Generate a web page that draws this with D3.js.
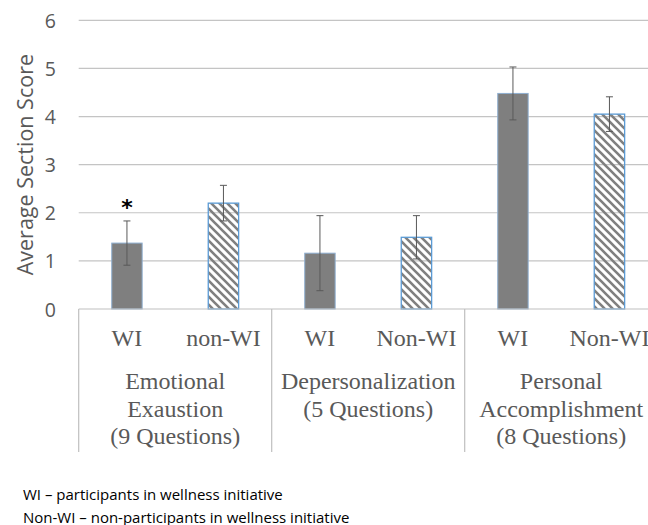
<!DOCTYPE html>
<html>
<head>
<meta charset="utf-8">
<script src="https://cdn.jsdelivr.net/npm/d3@7"></script>
<style>
body { margin: 0; background: #fff; }
svg { display: block; }
</style>
</head>
<body>
<div id="chart"></div>
<script>
// data
var categoryLines = [
	["Emotional", "Exaustion", "(9 Questions)"],
	["Depersonalization", "(5 Questions)"],
	["Personal", "Accomplishment", "(8 Questions)"]
];
var wiLabels = ["WI", "WI", "WI"];
var nonWiLabels = ["non-WI", "Non-WI", "Non-WI"];
var wiMeans = [1.37, 1.16, 4.48];
var wiErr = [0.46, 0.78, 0.55];
var nonWiMeans = [2.20, 1.49, 4.05];
var nonWiErr = [0.37, 0.45, 0.36];
var wiSignif = ["*", "", ""];
var yTicks = [0, 1, 2, 3, 4, 5, 6];
var yTitle = "Average Section Score";
var footnotes = [
	"WI \u2013 participants in wellness initiative",
	"Non-WI \u2013 non-participants in wellness initiative"
];

var chartW = 648, chartH = 525;
var plotLeft = 78.7, plotRight = 657.7, plotTop = 20.3, plotBottom = 309;

var svg = d3.select("#chart").append("svg")
	.attr("width", chartW)
	.attr("height", chartH);

var defs = svg.append("defs");
defs.append("pattern")
	.attr("id", "stripes")
	.attr("patternUnits", "userSpaceOnUse")
	.attr("width", 8)
	.attr("height", 8)
	.append("path")
	.attr("d", "M-2,-2L10,10M-2,6L2,10M6,-2L10,2")
	.attr("stroke", "#808080")
	.attr("stroke-width", 2.6);

// one bar per (category, group)
var bars = [];
categoryLines.forEach(function(c, i) {
	bars.push({id: i + "-wi", cat: i, label: wiLabels[i], v: wiMeans[i], e: wiErr[i], sig: wiSignif[i], wi: true});
	bars.push({id: i + "-non", cat: i, label: nonWiLabels[i], v: nonWiMeans[i], e: nonWiErr[i], sig: "", wi: false});
});

var y = d3.scaleLinear().domain([0, 6]).range([plotBottom, plotTop]);
var x = d3.scaleBand()
	.domain(bars.map(function(d) { return d.id; }))
	.range([plotLeft, plotRight])
	.paddingInner(0.685)
	.paddingOuter(0.3425);
var xCat = d3.scaleBand()
	.domain(d3.range(categoryLines.length))
	.range([plotLeft, plotRight]);

// gridlines
svg.append("g")
	.selectAll("line")
	.data(yTicks.filter(function(t) { return t > 0; }))
	.enter().append("line")
	.attr("x1", plotLeft).attr("x2", chartW)
	.attr("y1", function(d) { return y(d); })
	.attr("y2", function(d) { return y(d); })
	.attr("stroke", "#c4c4c4")
	.attr("stroke-width", 1.2);

// y axis labels
var yAxis = svg.append("g")
	.attr("transform", "translate(" + 56 + ",0)")
	.call(d3.axisLeft(y).tickValues(yTicks).tickSize(0).tickPadding(0).tickFormat(d3.format("d")));
yAxis.select(".domain").remove();
yAxis.selectAll("text")
	.attr("font-family", "'Open Sans', sans-serif")
	.attr("font-size", 19.5)
	.attr("fill", "#595959")
	.attr("dy", "0.36em");

svg.append("text")
	.attr("transform", "translate(33," + ((plotTop + plotBottom) / 2) + ") rotate(-90)")
	.attr("text-anchor", "middle")
	.attr("font-family", "'Open Sans', sans-serif")
	.attr("font-size", 21.5)
	.attr("fill", "#595959")
	.text(yTitle);

// bars
svg.append("g")
	.selectAll("rect")
	.data(bars)
	.enter().append("rect")
	.attr("x", function(d) { return x(d.id); })
	.attr("y", function(d) { return y(d.v); })
	.attr("width", x.bandwidth())
	.attr("height", function(d) { return y(0) - y(d.v); })
	.attr("fill", function(d) { return d.wi ? "#7f7f7f" : "url(#stripes)"; })
	.attr("stroke", function(d) { return d.wi ? "#8eaed0" : "#5b9bd5"; })
	.attr("stroke-width", function(d) { return d.wi ? 1 : 1.3; });

// error bars
var eb = svg.append("g")
	.selectAll("g")
	.data(bars)
	.enter().append("g")
	.attr("stroke", "#595959")
	.attr("stroke-width", 1);
eb.append("line")
	.attr("x1", function(d) { return x(d.id) + x.bandwidth() / 2; })
	.attr("x2", function(d) { return x(d.id) + x.bandwidth() / 2; })
	.attr("y1", function(d) { return y(d.v + d.e); })
	.attr("y2", function(d) { return y(d.v - d.e); });
[1, -1].forEach(function(s) {
	eb.append("line")
		.attr("x1", function(d) { return x(d.id) + x.bandwidth() / 2 - 3.5; })
		.attr("x2", function(d) { return x(d.id) + x.bandwidth() / 2 + 3.5; })
		.attr("y1", function(d) { return y(d.v + s * d.e); })
		.attr("y2", function(d) { return y(d.v + s * d.e); });
});

// significance mark
svg.append("g")
	.selectAll("text")
	.data(bars.filter(function(d) { return d.sig; }))
	.enter().append("text")
	.attr("x", function(d) { return x(d.id) + x.bandwidth() / 2; })
	.attr("y", function(d) { return y(d.v + d.e) - 6; })
	.attr("text-anchor", "middle")
	.attr("font-family", "'DejaVu Sans', sans-serif")
	.attr("font-weight", "bold")
	.attr("font-size", 22)
	.attr("fill", "#000")
	.text(function(d) { return d.sig; });

// x axis line and group dividers
svg.append("line")
	.attr("x1", plotLeft).attr("x2", chartW)
	.attr("y1", plotBottom).attr("y2", plotBottom)
	.attr("stroke", "#bfbfbf")
	.attr("stroke-width", 1.2);
svg.append("g")
	.selectAll("line")
	.data(d3.range(categoryLines.length + 1))
	.enter().append("line")
	.attr("x1", function(d) { return plotLeft + d * xCat.step(); })
	.attr("x2", function(d) { return plotLeft + d * xCat.step(); })
	.attr("y1", plotBottom).attr("y2", 452)
	.attr("stroke", "#bfbfbf")
	.attr("stroke-width", 1.2);

// bar labels
svg.append("g")
	.selectAll("text")
	.data(bars)
	.enter().append("text")
	.attr("x", function(d) { return x(d.id) + x.bandwidth() / 2; })
	.attr("y", 346)
	.attr("text-anchor", "middle")
	.attr("font-family", "'Liberation Serif', serif")
	.attr("font-size", 24)
	.attr("fill", "#595959")
	.text(function(d) { return d.label; });

// category labels
var cat = svg.append("g")
	.selectAll("text")
	.data(categoryLines)
	.enter().append("text")
	.attr("text-anchor", "middle")
	.attr("font-family", "'Liberation Serif', serif")
	.attr("font-size", 24)
	.attr("fill", "#595959");
cat.selectAll("tspan")
	.data(function(d, i) { return d.map(function(t) { return {t: t, i: i}; }); })
	.enter().append("tspan")
	.attr("x", function(d) { return xCat(d.i) + xCat.bandwidth() / 2; })
	.attr("y", function(d, j) { return 389 + j * 27.5; })
	.text(function(d) { return d.t; });

// footnote
svg.append("g")
	.selectAll("text")
	.data(footnotes)
	.enter().append("text")
	.attr("x", 23)
	.attr("y", function(d, i) { return 500 + i * 22.5; })
	.attr("font-family", "'Open Sans', sans-serif")
	.attr("font-size", 15)
	.attr("fill", "#000")
	.text(function(d) { return d; });
</script>
</body>
</html>
